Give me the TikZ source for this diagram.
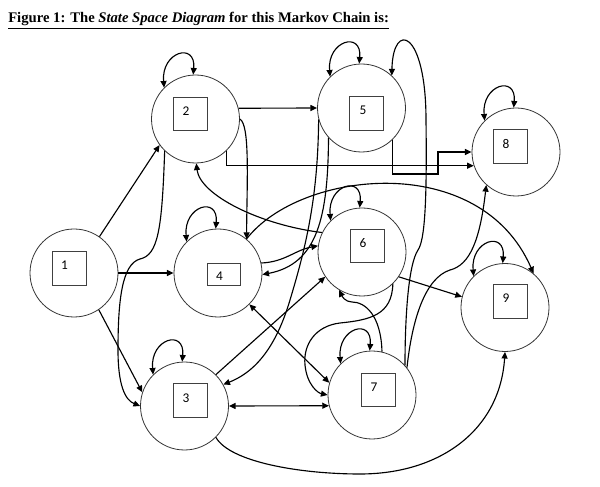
\documentclass[tikz,border=0pt]{standalone}
\usepackage{fontspec}
\setmainfont{Liberation Serif}
\newfontfamily\labfont{Carlito}
\usetikzlibrary{arrows.meta}
\begin{document}
\begin{tikzpicture}[x=0.75pt,y=0.75pt,
  state/.style={circle,draw=black!80,line width=0.6pt,minimum size=66pt,inner sep=0pt},
  sbox/.style={rectangle,draw=black!75,line width=0.6pt,minimum width=25.5pt,minimum height=25pt,inner sep=0pt},
  slabel/.style={font=\labfont\fontsize{10}{12}\selectfont,inner sep=0pt},
  conn/.style={line width=0.85pt,-{Triangle[length=5pt,width=4.5pt]}},
  bconn/.style={line width=0.85pt,{Triangle[length=5pt,width=4.5pt]}-{Triangle[length=5pt,width=4.5pt]}},
  plain/.style={line width=0.85pt}]
\useasboundingbox (0,0) rectangle (600,486);

\node[anchor=base west,inner sep=0pt,font=\bfseries\fontsize{11}{13}\selectfont] (title) at (8,463)
  {\underline{Figure 1: The \textit{State Space Diagram} for this Markov Chain is:}};

% states
\node[state] (n1) at (74,213) {};
\node[state] (n2) at (195.5,367) {};
\node[state] (n3) at (184.5,80) {};
\node[state] (n4) at (218,213) {};
\node[state] (n5) at (361.5,378) {};
\node[state] (n6) at (362,234) {};
\node[state] (n7) at (372,91) {};
\node[state] (n8) at (516,334) {};
\node[state] (n9) at (505,178.5) {};

% boxes
\node[sbox] (b1) at (69,217.5) {};
\node[sbox] (b2) at (190,372) {};
\node[sbox] (b3) at (190,85.5) {};
\node[sbox,minimum width=24.75pt,minimum height=16.5pt] (b4) at (223.5,212) {};
\node[sbox] (b5) at (366.5,372.5) {};
\node[sbox] (b6) at (367,240) {};
\node[sbox] (b7) at (378,96) {};
\node[sbox] (b8) at (510.5,339.5) {};
\node[sbox] (b9) at (510,184.5) {};

% labels
\node[slabel] (l1) at (64.5,220.5) {1};
\node[slabel] (l2) at (186,375) {2};
\node[slabel] (l3) at (186,87.5) {3};
\node[slabel] (l4) at (219.5,209.5) {4};
\node[slabel] (l5) at (363,375.5) {5};
\node[slabel] (l6) at (363,242.5) {6};
\node[slabel] (l7) at (374,98.5) {7};
\node[slabel] (l8) at (506,342) {8};
\node[slabel] (l9) at (506,187.5) {9};

% self loops
\foreach \n in {2,...,9}
  \draw[bconn] (n\n.135) .. controls +(-3,36) and +(3,33) .. (n\n.93);

% connectors
\draw[conn] (n1.55) -- (n2.216);
\draw[conn] (n1.0) -- (n4.180);
\draw[conn] (n1.-56) -- (n3.162);
\draw[conn] (n2.226) .. controls (162,256) and (158,231) .. (140,227)
  .. controls (122,222) and (118,186) .. (118,136)
  .. controls (118,101) and (125,86) .. (n3.180);
\draw[conn] (n2.14) -- (n5.180);
\draw[conn] (n2.-46) |- (n8.198);
\coordinate (c58) at (438,312);
\draw[conn] (n5.-46) |- (c58) |- (n8.180);
\draw[conn] (n2.0) .. controls (250,361) and (247,306) .. (n4.50);
\draw[conn] (n5.222) .. controls (328,270) and (318,222) .. (n4.-2);
\draw[conn] (n5.195) .. controls (318,286) and (305,236) .. (290,186)
  .. controls (278,146) and (260,116) .. (n3.29);
\draw[conn] (n4.13) .. controls (285,224) and (295,236) .. (n6.172);
\draw[bconn] (n4.-45) -- (n7.164);
\draw[bconn] (n3.0) -- (n7.194);
\draw[conn] (n3.45) -- (n6.214);
\draw[conn] (n3.-45) .. controls (230,24) and (300,12) .. (360,12)
  .. controls (440,12) and (500,56) .. (n9.-90);
\draw[conn] (n6.-34.5) -- (n9.166);
\draw[conn] (n7.77) .. controls (381,171) and (365,184) .. (352,184)
  .. controls (345,184) and (342,190) .. (n6.239);
\draw[conn] (n6.-46) .. controls (392,171) and (370,166) .. (340,163)
  .. controls (315,160) and (303,141) .. (305,121)
  .. controls (307,101) and (318,93) .. (n7.180);
\draw[conn] (n7.42) .. controls (405,166) and (408,221) .. (418,236)
  .. controls (425,246) and (427,286) .. (426,366)
  .. controls (426,456) and (393,466) .. (n5.47);
\draw[conn] (n7.38) .. controls (412,166) and (425,208) .. (450,216)
  .. controls (470,221) and (480,246) .. (n8.228);
\draw[conn] (n6.154) .. controls (260,261) and (200,291) .. (n2.-89);
\draw[conn] (n4.50) .. controls (300,316) and (480,336) .. (n9.50);
\end{tikzpicture}
\end{document}
